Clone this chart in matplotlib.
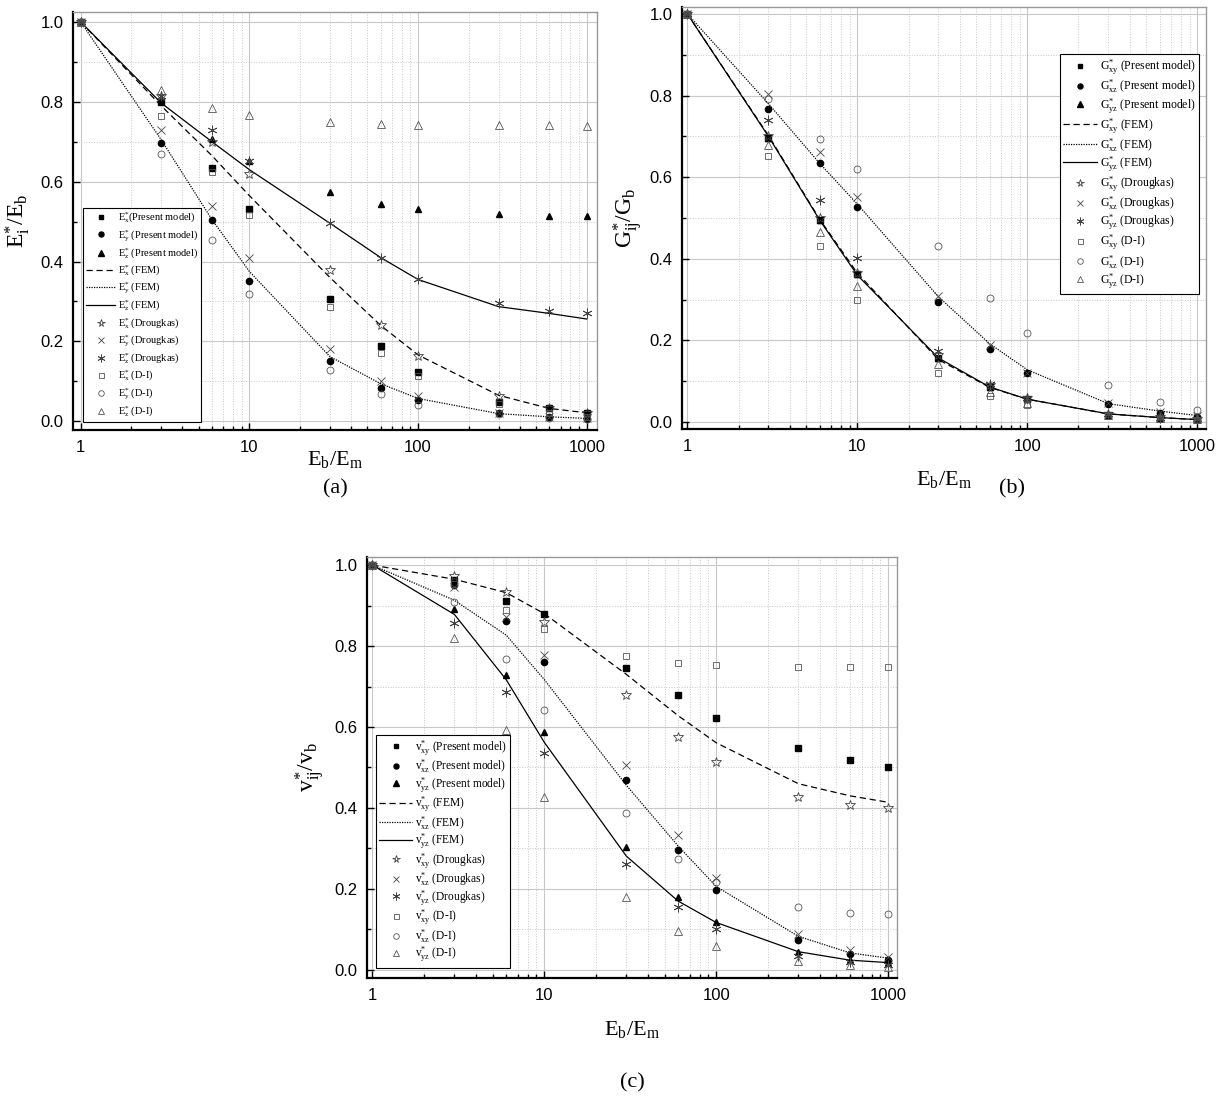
import matplotlib.pyplot as plt
from matplotlib.ticker import FixedLocator, NullFormatter, FixedFormatter, FormatStrFormatter

plt.rcParams['font.family'] = ['Liberation Serif', 'DejaVu Serif']
plt.rcParams['mathtext.fontset'] = 'custom'
plt.rcParams['mathtext.rm'] = 'Liberation Serif'
plt.rcParams['mathtext.default'] = 'regular'

ratio = [1, 3, 6, 10, 30, 60, 100, 300, 600, 1000]

# (a) E_i*/E_b
ex_present = [1.0, 0.80, 0.634, 0.531, 0.305, 0.188, 0.124, 0.048, 0.032, 0.020]
ey_present = [1.0, 0.698, 0.504, 0.350, 0.150, 0.082, 0.053, 0.020, 0.010, 0.005]
ez_present = [1.0, 0.805, 0.706, 0.652, 0.573, 0.543, 0.531, 0.518, 0.514, 0.513]
ex_fem = [1.0, 0.79, 0.665, 0.565, 0.360, 0.240, 0.166, 0.065, 0.032, 0.021]
ey_fem = [1.0, 0.705, 0.505, 0.375, 0.162, 0.094, 0.057, 0.019, 0.011, 0.007]
ez_fem = [1.0, 0.797, 0.700, 0.630, 0.496, 0.410, 0.355, 0.287, 0.270, 0.256]
ex_droug = [1.0, 0.815, 0.700, 0.620, 0.380, 0.240, 0.164, 0.063, 0.034, 0.020]
ey_droug = [1.0, 0.730, 0.538, 0.410, 0.180, 0.100, 0.063, 0.020, 0.010, 0.007]
ez_droug = [1.0, 0.815, 0.730, 0.652, 0.496, 0.410, 0.355, 0.297, 0.277, 0.270]
ex_di = [1.0, 0.765, 0.625, 0.517, 0.285, 0.172, 0.113, 0.043, 0.020, 0.011]
ey_di = [1.0, 0.670, 0.454, 0.318, 0.128, 0.068, 0.040, 0.017, 0.008, 0.005]
ez_di = [1.0, 0.830, 0.784, 0.766, 0.749, 0.744, 0.742, 0.742, 0.742, 0.740]

# (b) G_ij*/G_b
gxy_present = [1.0, 0.696, 0.494, 0.363, 0.158, 0.086, 0.057, 0.018, 0.011, 0.007]
gxz_present = [1.0, 0.767, 0.634, 0.526, 0.295, 0.180, 0.119, 0.045, 0.023, 0.012]
gyz_present = [1.0, 0.696, 0.494, 0.363, 0.158, 0.086, 0.057, 0.018, 0.011, 0.007]
gxy_fem = [1.0, 0.702, 0.497, 0.365, 0.153, 0.085, 0.056, 0.020, 0.011, 0.006]
gxz_fem = [1.0, 0.780, 0.634, 0.534, 0.307, 0.192, 0.128, 0.045, 0.027, 0.016]
gyz_fem = [1.0, 0.700, 0.495, 0.360, 0.157, 0.086, 0.056, 0.020, 0.011, 0.006]
gxy_droug = [1.0, 0.700, 0.500, 0.365, 0.165, 0.090, 0.058, 0.020, 0.012, 0.007]
gxz_droug = [1.0, 0.803, 0.661, 0.552, 0.309, 0.190, 0.119, 0.047, 0.025, 0.016]
gyz_droug = [1.0, 0.739, 0.544, 0.401, 0.174, 0.094, 0.059, 0.020, 0.011, 0.007]
gxy_di = [1.0, 0.653, 0.431, 0.299, 0.120, 0.065, 0.041, 0.016, 0.008, 0.006]
gxz_di = [1.0, 0.792, 0.693, 0.619, 0.431, 0.303, 0.217, 0.090, 0.049, 0.030]
gyz_di = [1.0, 0.679, 0.466, 0.333, 0.142, 0.074, 0.047, 0.018, 0.010, 0.007]

# (c) v_ij*/v_b
vxy_present = [1.0, 0.962, 0.911, 0.878, 0.746, 0.679, 0.623, 0.548, 0.519, 0.500]
vxz_present = [1.0, 0.950, 0.862, 0.760, 0.469, 0.296, 0.198, 0.075, 0.039, 0.024]
vyz_present = [1.0, 0.891, 0.729, 0.587, 0.304, 0.181, 0.118, 0.045, 0.024, 0.016]
vxy_fem = [1.0, 0.965, 0.932, 0.880, 0.730, 0.628, 0.561, 0.460, 0.430, 0.414]
vxz_fem = [1.0, 0.913, 0.827, 0.717, 0.456, 0.306, 0.206, 0.083, 0.042, 0.029]
vyz_fem = [1.0, 0.878, 0.717, 0.562, 0.281, 0.170, 0.117, 0.045, 0.024, 0.018]
vxy_droug = [1.0, 0.974, 0.933, 0.860, 0.678, 0.575, 0.513, 0.428, 0.407, 0.400]
vxz_droug = [1.0, 0.945, 0.872, 0.778, 0.507, 0.333, 0.227, 0.088, 0.049, 0.031]
vyz_droug = [1.0, 0.857, 0.687, 0.535, 0.261, 0.155, 0.102, 0.034, 0.020, 0.012]
vxy_di = [1.0, 0.953, 0.888, 0.842, 0.776, 0.758, 0.752, 0.748, 0.748, 0.748]
vxz_di = [1.0, 0.909, 0.768, 0.641, 0.387, 0.273, 0.218, 0.155, 0.140, 0.139]
vyz_di = [1.0, 0.821, 0.593, 0.428, 0.179, 0.096, 0.060, 0.022, 0.012, 0.008]

W, H = 1229, 1100
fig = plt.figure(figsize=(W / 100, H / 100), dpi=100)


def px_axes(left, top, right, bottom):
    return fig.add_axes([left / W, 1 - bottom / H, (right - left) / W, (bottom - top) / H])


present_style = [dict(marker='s', ms=4), dict(marker='o', ms=4.5), dict(marker='^', ms=5)]
fem_style = [(0, (5, 3)), (0, (1, 1)), '-']
droug_style = [dict(marker='*', ms=7, mfc='none', mew=0.6),
               dict(marker='x', ms=6, mew=0.6),
               dict(marker=(6, 2, 0), ms=7, mew=0.6)]
di_style = [dict(marker='s', ms=4.5), dict(marker='o', ms=5), dict(marker='^', ms=5.5)]


def draw_panel(ax, sym, comps, present, fem, droug, di, first_nospace=False):
    handles = []
    for i, (c, y) in enumerate(zip(comps, present)):
        sep = '' if (first_nospace and i == 0) else ' '
        h, = ax.plot(ratio, y, ls='none', color='black', mec='black',
                     label=sym + '$_{%s}^{*}$' % c + sep + '(Present model)', zorder=4,
                     **present_style[i])
        handles.append(h)
    for i, (c, y) in enumerate(zip(comps, fem)):
        h, = ax.plot(ratio, y, ls=fem_style[i], color='black', lw=0.9,
                     label=sym + '$_{%s}^{*}$ (FEM)' % c, zorder=3)
        handles.append(h)
    for i, (c, y) in enumerate(zip(comps, droug)):
        h, = ax.plot(ratio, y, ls='none', color='#444444', mec='#444444',
                     label=sym + '$_{%s}^{*}$ (Drougkas)' % c, zorder=4, **droug_style[i])
        handles.append(h)
    for i, (c, y) in enumerate(zip(comps, di)):
        h, = ax.plot(ratio, y, ls='none', mfc='none', mec='#555555', mew=0.6,
                     label=sym + '$_{%s}^{*}$ (D-I)' % c, zorder=4, **di_style[i])
        handles.append(h)

    ax.set_xscale('log')
    ax.xaxis.set_major_locator(FixedLocator([1, 10, 100, 1000]))
    ax.xaxis.set_major_formatter(FixedFormatter(['1', '10', '100', '1000']))
    minors = [m * 10 ** k for k in range(3) for m in range(2, 10)]
    ax.xaxis.set_minor_locator(FixedLocator(minors))
    ax.xaxis.set_minor_formatter(NullFormatter())
    ax.yaxis.set_major_locator(FixedLocator([0, 0.2, 0.4, 0.6, 0.8, 1.0]))
    ax.yaxis.set_minor_locator(FixedLocator([0.1, 0.3, 0.5, 0.7, 0.9]))
    ax.yaxis.set_major_formatter(FormatStrFormatter('%.1f'))

    ax.grid(True, which='major', color='#c8c8c8', lw=0.8, ls='-', zorder=0)
    ax.grid(True, which='minor', color='#c8c8c8', lw=0.7, ls=':', zorder=0)
    ax.set_axisbelow(True)

    ax.tick_params(which='both', direction='in', top=False, right=False, width=1.0)
    ax.tick_params(which='major', length=5, labelsize=12, pad=7)
    ax.tick_params(which='minor', length=3)
    for lab in ax.get_xticklabels() + ax.get_yticklabels():
        lab.set_fontfamily('Liberation Sans')

    for side in ['left', 'bottom']:
        ax.spines[side].set_linewidth(1.6)
        ax.spines[side].set_color('black')
    for side in ['top', 'right']:
        ax.spines[side].set_linewidth(1.0)
        ax.spines[side].set_color('#999999')
    return handles


def legend_for(ax, handles, size, spacing, **kw):
    leg = ax.legend(handles=handles, fontsize=size, numpoints=1, handlelength=2.8,
                    handletextpad=0.25, labelspacing=spacing, borderpad=0.3,
                    borderaxespad=0, fancybox=False, framealpha=1, markerscale=0.8,
                    **kw)
    leg.get_frame().set_edgecolor('black')
    leg.get_frame().set_linewidth(0.8)
    return leg


# panel (a)
ax_a = px_axes(73, 12, 597, 430)
h = draw_panel(ax_a, 'E', ['x', 'y', 'z'],
               [ex_present, ey_present, ez_present], [ex_fem, ey_fem, ez_fem],
               [ex_droug, ey_droug, ez_droug], [ex_di, ey_di, ez_di], first_nospace=True)
ax_a.set_xlim(0.9, 1150)
ax_a.set_ylim(-0.022, 1.025)
ax_a.set_ylabel('E$_{i}^{*}$/E$_{b}$', fontsize=17, labelpad=6)
legend_for(ax_a, h, 7.5, 0.27, loc='lower left', bbox_to_anchor=(0.019, 0.019))

# panel (b)
ax_b = px_axes(682, 7, 1206, 429)
h = draw_panel(ax_b, 'G', ['xy', 'xz', 'yz'],
               [gxy_present, gxz_present, gyz_present], [gxy_fem, gxz_fem, gyz_fem],
               [gxy_droug, gxz_droug, gyz_droug], [gxy_di, gxz_di, gyz_di])
ax_b.set_xlim(0.93, 1125)
ax_b.set_ylim(-0.017, 1.017)
ax_b.set_ylabel('G$_{ij}^{*}$/G$_{b}$', fontsize=17, labelpad=3)
legend_for(ax_b, h, 8.5, 0.05, loc='upper right', bbox_to_anchor=(0.987, 0.888))

# panel (c)
ax_c = px_axes(367, 557, 897, 978)
h = draw_panel(ax_c, 'v', ['xy', 'xz', 'yz'],
               [vxy_present, vxz_present, vyz_present], [vxy_fem, vxz_fem, vyz_fem],
               [vxy_droug, vxz_droug, vyz_droug], [vxy_di, vxz_di, vyz_di])
ax_c.set_xlim(0.93, 1125)
ax_c.set_ylim(-0.02, 1.02)
ax_c.set_ylabel('v$_{ij}^{*}$/v$_{b}$', fontsize=17, labelpad=5)
legend_for(ax_c, h, 8.3, 0.0, loc='lower left', bbox_to_anchor=(0.017, 0.024))

# x labels and panel captions
fig.text(335 / W, 1 - 460 / H, 'E$_{b}$/E$_{m}$', fontsize=16, ha='center', va='center')
fig.text(335 / W, 1 - 489 / H, '(a)', fontsize=16, ha='center', va='center')
fig.text(944 / W, 1 - 480 / H, 'E$_{b}$/E$_{m}$', fontsize=16, ha='center', va='center')
fig.text(1012 / W, 1 - 489 / H, '(b)', fontsize=16, ha='center', va='center')
fig.text(632 / W, 1 - 1030 / H, 'E$_{b}$/E$_{m}$', fontsize=16, ha='center', va='center')
fig.text(632 / W, 1 - 1083 / H, '(c)', fontsize=16, ha='center', va='center')

fig.savefig('out.png', dpi=100, facecolor='white')
